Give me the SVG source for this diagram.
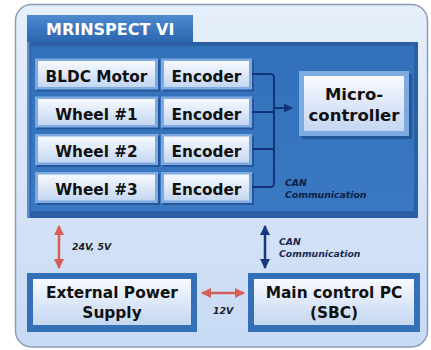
<svg xmlns="http://www.w3.org/2000/svg" width="431" height="350" viewBox="0 0 431 350">
<style>
.t{font-family:"DejaVu Sans","Verdana",sans-serif;font-weight:bold;fill:#111;text-anchor:middle}
.row{font-size:15.3px}
.big{font-size:15.4px}
.lab{font-family:"DejaVu Sans",sans-serif;font-weight:bold;font-style:italic;font-size:9.3px}
.bx{fill:#7eaae2}
.bi{fill:url(#boxg)}
.sh{fill:#24569a}
.con{fill:none;stroke:#12357a;stroke-width:2}
</style>
<defs>
<linearGradient id="bg" x1="0" y1="0" x2="0" y2="1"><stop offset="0" stop-color="#e6effb"/><stop offset="1" stop-color="#c8daf4"/></linearGradient>
<linearGradient id="boxg" x1="0" y1="0" x2="0" y2="1"><stop offset="0" stop-color="#f7faff"/><stop offset="1" stop-color="#c4d6f1"/></linearGradient>
<linearGradient id="tabg" x1="0" y1="0" x2="0" y2="1"><stop offset="0" stop-color="#4d8ad0"/><stop offset="1" stop-color="#2b66ae"/></linearGradient>
<linearGradient id="pang" x1="0" y1="0" x2="0" y2="1"><stop offset="0" stop-color="#3370ba"/><stop offset="1" stop-color="#3a78c2"/></linearGradient>
<marker id="ar" viewBox="0 0 10 10" refX="9" refY="5" markerWidth="4" markerHeight="4" orient="auto-start-reverse" markerUnits="strokeWidth"><path d="M0,0 L10,5 L0,10 z" fill="#d45f59"/></marker>
<marker id="ab" viewBox="0 0 10 10" refX="9" refY="5" markerWidth="4" markerHeight="4" orient="auto-start-reverse" markerUnits="strokeWidth"><path d="M0,0 L10,5 L0,10 z" fill="#15397e"/></marker>
<marker id="an" viewBox="0 0 10 10" refX="9" refY="5" markerWidth="4.5" markerHeight="4.5" orient="auto" markerUnits="strokeWidth"><path d="M0,0 L10,5 L0,10 z" fill="#12357a"/></marker>
</defs>
<rect x="0" y="0" width="431" height="350" fill="#ffffff"/>
<rect x="15.5" y="4.5" width="412" height="342.5" rx="16" fill="url(#bg)" stroke="#8b9cb5" stroke-width="1.5"/>
<g id="panel">
<rect x="27" y="42" width="391" height="176" fill="#2c60a5"/>
<rect x="31" y="46" width="383" height="165" fill="url(#pang)"/>
<rect x="27" y="42" width="2.5" height="176" fill="#5a8ed0"/>
</g>
<g id="tab">
<rect x="27" y="15" width="166" height="27" fill="url(#tabg)"/>
<text x="46" y="35" style="font-family:'DejaVu Sans',sans-serif;font-weight:bold;font-size:16px;fill:#ffffff">MRINSPECT VI</text>
</g>
<g id="bldc"><rect class="sh" x="37" y="60.5" width="123" height="31"/><rect class="bx" x="35" y="58.5" width="123" height="31"/><rect class="bi" x="38" y="61" width="117" height="26"/><text class="t row" x="96.5" y="81.5">BLDC Motor</text></g>
<g id="enc1"><rect class="sh" x="163" y="60.5" width="91" height="31"/><rect class="bx" x="161" y="58.5" width="91" height="31"/><rect class="bi" x="164" y="61" width="85" height="26"/><text class="t row" x="206.5" y="81.5">Encoder</text></g>
<g id="wheel1"><rect class="sh" x="37" y="98.5" width="123" height="31"/><rect class="bx" x="35" y="96.5" width="123" height="31"/><rect class="bi" x="38" y="99" width="117" height="26"/><text class="t row" x="96.5" y="119.5">Wheel #1</text></g>
<g id="enc2"><rect class="sh" x="163" y="98.5" width="91" height="31"/><rect class="bx" x="161" y="96.5" width="91" height="31"/><rect class="bi" x="164" y="99" width="85" height="26"/><text class="t row" x="206.5" y="119.5">Encoder</text></g>
<g id="wheel2"><rect class="sh" x="37" y="136" width="123" height="31"/><rect class="bx" x="35" y="134" width="123" height="31"/><rect class="bi" x="38" y="136.5" width="117" height="26"/><text class="t row" x="96.5" y="157">Wheel #2</text></g>
<g id="enc3"><rect class="sh" x="163" y="136" width="91" height="31"/><rect class="bx" x="161" y="134" width="91" height="31"/><rect class="bi" x="164" y="136.5" width="85" height="26"/><text class="t row" x="206.5" y="157">Encoder</text></g>
<g id="wheel3"><rect class="sh" x="37" y="174" width="123" height="31"/><rect class="bx" x="35" y="172" width="123" height="31"/><rect class="bi" x="38" y="174.5" width="117" height="26"/><text class="t row" x="96.5" y="195">Wheel #3</text></g>
<g id="enc4"><rect class="sh" x="163" y="174" width="91" height="31"/><rect class="bx" x="161" y="172" width="91" height="31"/><rect class="bi" x="164" y="174.5" width="85" height="26"/><text class="t row" x="206.5" y="195">Encoder</text></g>
<g id="micro"><rect class="sh" x="302" y="74" width="110" height="65"/><rect class="bx" x="299" y="71" width="110" height="65"/><rect class="bi" x="304" y="76" width="100" height="55"/><text class="t" style="font-size:16.5px" x="354" y="100">Micro-</text><text class="t" style="font-size:16.5px" x="354" y="121">controller</text></g>
<g id="power"><rect x="27" y="273" width="170" height="59" fill="#3470b8"/><rect x="33" y="279" width="158" height="46" fill="url(#boxg)"/><text class="t big" x="112" y="298">External Power</text><text class="t big" x="112" y="318">Supply</text></g>
<g id="pc"><rect x="248" y="273" width="172" height="59" fill="#3470b8"/><rect x="254" y="279" width="160" height="46" fill="url(#boxg)"/><text class="t big" x="334" y="298">Main control PC</text><text class="t big" x="334" y="318">(SBC)</text></g>
<g id="connectors">
<path class="con" d="M252,74 H270 Q274,74 274,78 V183 Q274,187 270,187 H252"/>
<path class="con" d="M252,112 H274"/>
<path class="con" d="M252,149 H274"/>
<path class="con" d="M274,108 H292" marker-end="url(#an)"/>
<path d="M59,226 V268" fill="none" stroke="#d45f59" stroke-width="2.5" marker-start="url(#ar)" marker-end="url(#ar)"/>
<path d="M265,226 V268" fill="none" stroke="#15397e" stroke-width="2.5" marker-start="url(#ab)" marker-end="url(#ab)"/>
<path d="M202,293 H244" fill="none" stroke="#d45f59" stroke-width="2.5" marker-start="url(#ar)" marker-end="url(#ar)"/>
</g>
<g id="labels">
<text class="lab" x="285" y="186" fill="#0c1f45">CAN</text>
<text class="lab" x="285" y="198" fill="#0c1f45">Communication</text>
<text class="lab" x="72" y="250" fill="#222">24V, 5V</text>
<text class="lab" x="279" y="245" fill="#1a2a50">CAN</text>
<text class="lab" x="279" y="257" fill="#1a2a50">Communication</text>
<text class="lab" x="213" y="314" fill="#222">12V</text>
</g>
</svg>
